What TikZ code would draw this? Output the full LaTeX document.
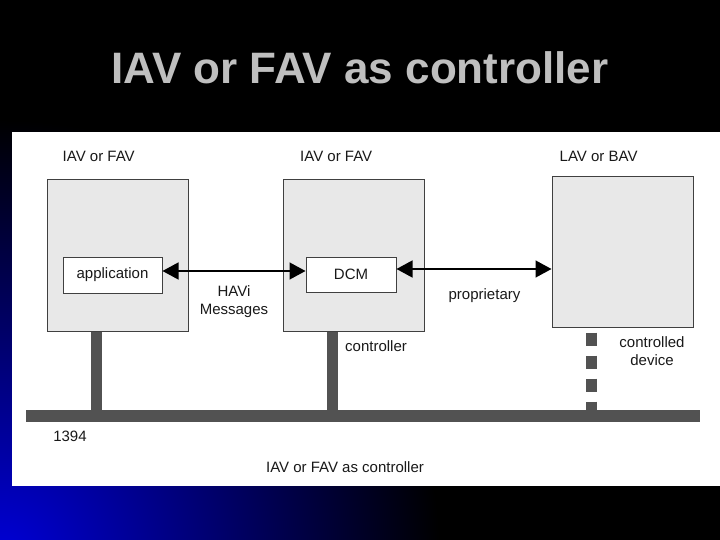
\documentclass[tikz,border=0pt]{standalone}
\usepackage{fontspec}
\setmainfont{Liberation Sans}
\usetikzlibrary{arrows.meta,positioning,calc}

\begin{document}
\begin{tikzpicture}[x=1pt, y=-1pt,
  dev/.style={draw=black!75, fill=black!9, line width=1pt, minimum width=141pt, minimum height=151pt, inner sep=0pt},
  unit/.style={draw=black!75, fill=white, line width=1pt, inner sep=0pt, font=\fontsize{15}{18}\selectfont, text=black!90},
  lbl/.style={font=\fontsize{15}{18}\selectfont, inner sep=0pt, align=center, text=black!90},
  link/.style={arrows={Triangle[length=16pt,width=17pt]-Triangle[length=16pt,width=17pt]}, line width=1.4pt},
  bus/.style={line width=12pt, draw=black!68},
  stub/.style={line width=11pt, draw=black!68}]

% slide background
\useasboundingbox (0,0) rectangle (720,540);
\fill[black] (0,0) rectangle (720,540);
\begin{scope}
  \clip (0,0) rectangle (720,540);
  \shade[inner color=blue!85!black, outer color=black] (0,560) circle (440);
\end{scope}
\node[font=\fontsize{44}{48}\selectfont\bfseries, text=black!25] (title) at (360,68) {IAV or FAV as controller};
\fill[white] (12,132) rectangle (720,486);

% the 1394 bus
\coordinate (busL) at (26,416);
\coordinate (busR) at (700,416);

% devices
\node[dev] (iav1) at (117.5,255.5) {};
\node[dev] (iav2) at (354,255.5) {};
\node[dev, minimum height=150pt] (lav) at (622.5,252) {};

\node[lbl, anchor=base west] (iav1lbl) at ([xshift=16pt,yshift=18pt]iav1.north west) {IAV or FAV};
\node[lbl, anchor=base west] (iav2lbl) at ([xshift=17pt,yshift=18pt]iav2.north west) {IAV or FAV};
\node[lbl, anchor=base west] (lavlbl) at ([xshift=8pt,yshift=15pt]lav.north west) {LAV or BAV};

\node[unit, minimum width=99pt, minimum height=36pt] (app) at (112.5,275) {application};
\node[unit, minimum width=90pt, minimum height=35pt] (dcm) at (351,274.5) {DCM};

\draw[link] ([yshift=4pt]app.east) -- ([yshift=4pt]app.east -| dcm.west);
\draw[link] ([yshift=5.5pt]dcm.east) -- ([yshift=5.5pt]dcm.east -| lav.west);

\node[lbl] (havi) at (234,302) {HAVi\\Messages};
\node[lbl] (prop) at (484.5,296) {proprietary};

% connections to the bus
\draw[stub] ([xshift=-21pt]iav1.south) -- ([xshift=-21pt]iav1.south |- busL);
\draw[stub] ([xshift=-21.5pt]iav2.south) -- ([xshift=-21.5pt]iav2.south |- busL);
\draw[stub, dash pattern=on 13pt off 10pt] ([xshift=-31pt,yshift=-5pt]lav.south) -- ([xshift=-31pt]lav.south |- busL);
\draw[bus] (busL) -- (busR);

\node[lbl, anchor=west] (ctrl) at (345,346) {controller};
\node[lbl] (cdev) at (652,351) {controlled\\device};
\node[lbl] (fw) at (70,436) {1394};
\node[lbl] (cap) at (345,467) {IAV or FAV as controller};
\end{tikzpicture}
\end{document}
